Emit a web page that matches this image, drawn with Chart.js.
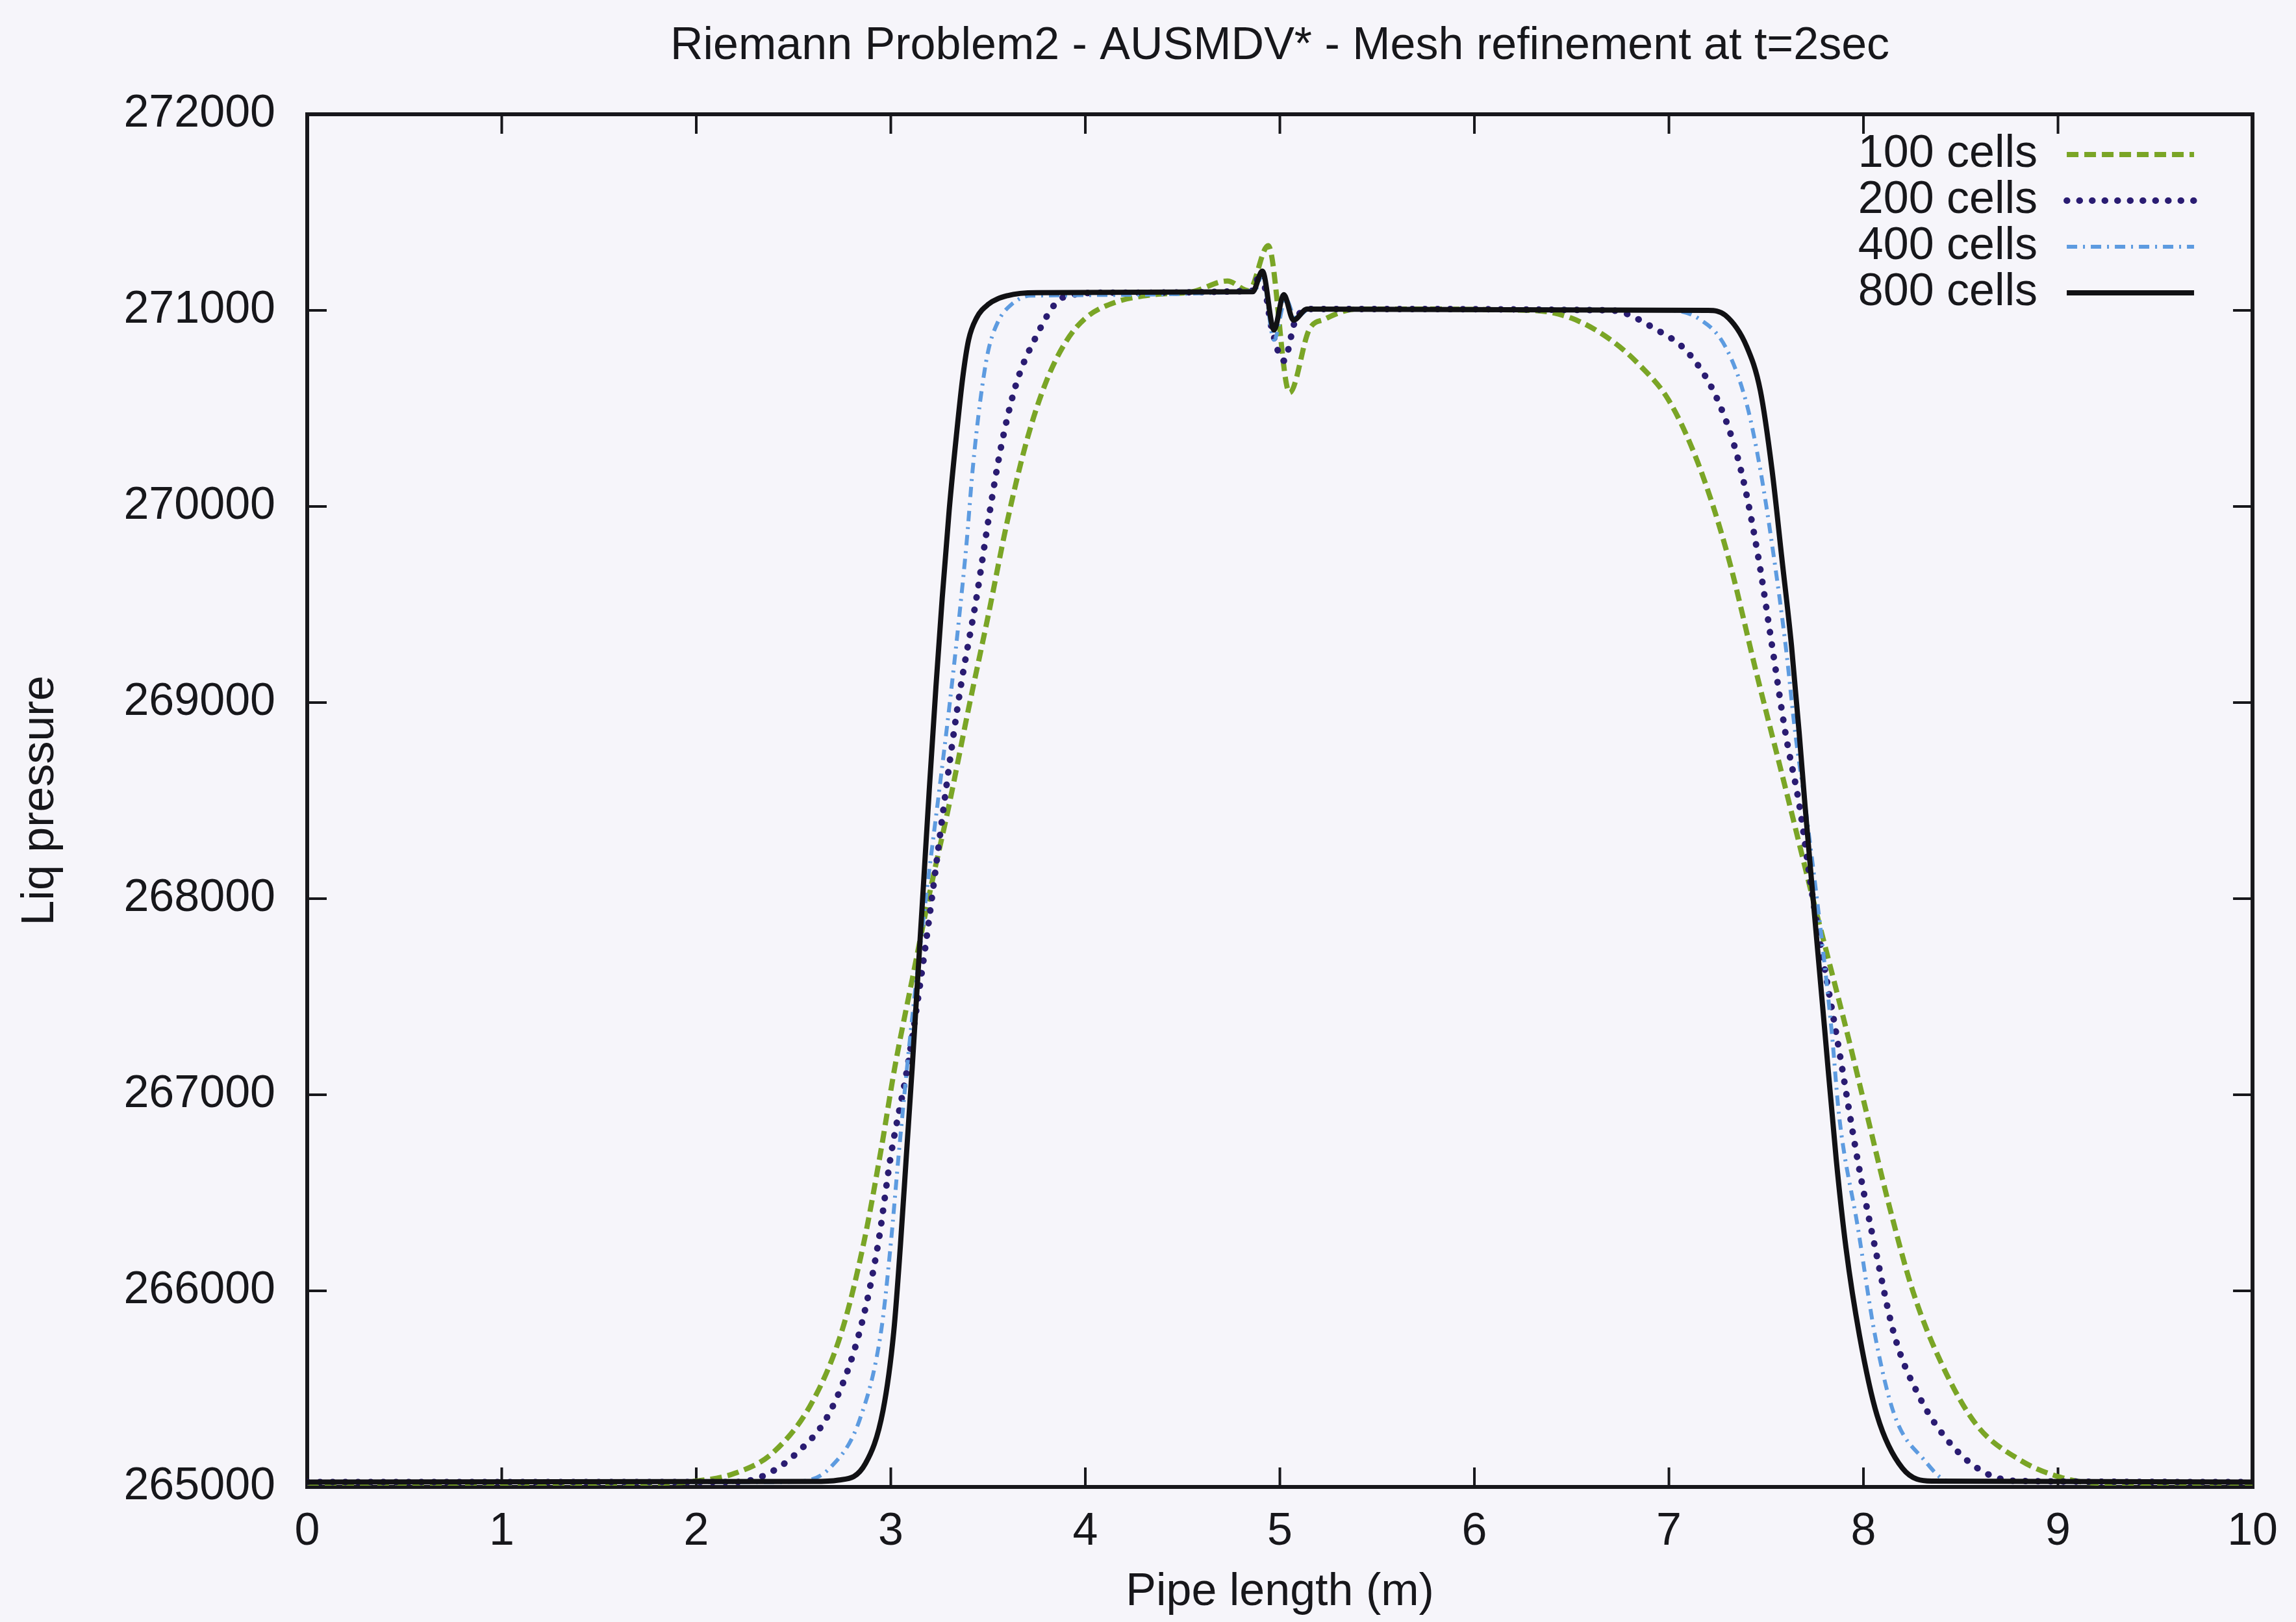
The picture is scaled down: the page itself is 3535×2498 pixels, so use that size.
<!DOCTYPE html>
<html>
<head>
<meta charset="utf-8">
<title>Riemann Problem2 - AUSMDV* - Mesh refinement at t=2sec</title>
<script src="https://cdn.jsdelivr.net/npm/chart.js@4.4.1/dist/chart.umd.min.js"></script>
<style>
  html, body { margin: 0; padding: 0; background: #f6f5fa; }
  #wrap { width: 3535px; height: 2498px; }
</style>
</head>
<body>
<div id="wrap"><canvas id="liqChart" width="3535" height="2498"></canvas></div>
<script>
// values (x in m, liquid pressure in Pa)
const seriesLabels = ['100 cells', '200 cells', '400 cells', '800 cells'];

const x100 = [0, 1.8, 2.0, 2.2, 2.4, 2.6, 2.75, 2.86, 2.95, 3.02, 3.11, 3.2, 3.3, 3.4, 3.5, 3.6, 3.7, 3.8, 3.9, 4.0, 4.15, 4.35, 4.55, 4.73, 4.84, 4.94, 5.05, 5.15, 5.23, 5.4, 6.3, 6.5, 6.7, 6.85, 7.0, 7.15, 7.3, 7.45, 7.6, 7.74, 7.91, 8.02, 8.13, 8.255, 8.4, 8.58, 8.8, 9.01, 9.2, 10];
const p100 = [265020, 265020, 265030, 265070, 265180, 265440, 265800, 266240, 266720, 267137, 267588, 268030, 268480, 268970, 269440, 269930, 270340, 270640, 270840, 270960, 271040, 271080, 271095, 271150, 271100, 271330, 270580, 270900, 270955, 271007, 271000, 270960, 270850, 270720, 270540, 270220, 269760, 269150, 268560, 268000, 267340, 266891, 266443, 265995, 265632, 265318, 265140, 265050, 265020, 265020];

const x200 = [0, 2.2, 2.33, 2.51, 2.69, 2.84, 2.935, 3.0, 3.085, 3.17, 3.31, 3.36, 3.44, 3.51, 3.565, 3.64, 3.73, 3.89, 4.1, 4.86, 4.9, 4.96, 5.02, 5.08, 5.15, 6.7, 6.93, 7.11, 7.26, 7.37, 7.46, 7.53, 7.6, 7.67, 7.74, 7.875, 7.97, 8.06, 8.16, 8.29, 8.44, 8.62, 8.8, 10];
const p200 = [265025, 265025, 265050, 265167, 265388, 265793, 266241, 266689, 267137, 267700, 268749, 269084, 269532, 269982, 270295, 270610, 270833, 271068, 271090, 271100, 271195, 270900, 270743, 270950, 271007, 271000, 270905, 270771, 270521, 270186, 269738, 269290, 268839, 268480, 268000, 267226, 266667, 266219, 265770, 265455, 265229, 265075, 265030, 265025];

const x400 = [0, 2.4, 2.55, 2.69, 2.84, 2.95, 3.0, 3.04, 3.1, 3.18, 3.25, 3.3, 3.35, 3.39, 3.42, 3.46, 3.5, 3.55, 3.62, 3.72, 4.87, 4.91, 4.97, 5.03, 5.08, 5.15, 7.0, 7.15, 7.29, 7.4, 7.47, 7.54, 7.6, 7.65, 7.7, 7.835, 7.875, 7.97, 8.06, 8.16, 8.31, 8.44, 10];
const p400 = [265025, 265025, 265030, 265100, 265343, 265793, 266241, 266689, 267300, 268000, 268560, 268971, 269421, 269820, 270180, 270540, 270790, 270940, 271030, 271075, 271100, 271180, 270850, 271060, 270960, 271007, 271000, 270960, 270815, 270521, 270186, 269738, 269290, 268839, 268480, 267340, 266891, 266330, 265770, 265365, 265140, 265030, 265025];

const x800 = [0, 2.6, 2.73, 2.87, 2.96, 3.015, 3.05, 3.08, 3.11, 3.138, 3.166, 3.198, 3.232, 3.264, 3.3, 3.337, 3.37, 3.4, 3.44, 3.5, 3.6, 3.75, 4.86, 4.91, 4.97, 5.02, 5.07, 5.14, 7.2, 7.29, 7.4, 7.47, 7.53, 7.58, 7.63, 7.67, 7.7, 7.75, 7.8, 7.86, 7.91, 7.98, 8.07, 8.2, 8.35, 10];
const p800 = [265025, 265028, 265035, 265120, 265390, 265790, 266240, 266690, 267140, 267590, 268040, 268560, 269080, 269530, 269980, 270360, 270660, 270850, 270960, 271030, 271075, 271090, 271095, 271200, 270900, 271080, 270950, 271007, 271000, 270975, 270815, 270590, 270186, 269740, 269290, 268840, 268470, 267900, 267340, 266670, 266220, 265770, 265365, 265096, 265030, 265025];

const xTickValues = [0, 1, 2, 3, 4, 5, 6, 7, 8, 9, 10];
const yTickValues = [265000, 266000, 267000, 268000, 269000, 270000, 271000, 272000];

const FONT = "'Liberation Sans', Arial, Helvetica, sans-serif";
const INK = '#17171b';

function pts(xs, ys) {
    return xs.map((x, i) => ({x: x, y: ys[i]}));
}

// gnuplot style box with inward ticks on all four sides
const framePlugin = {
    id: 'frame',
    beforeDatasetsDraw(chart) {
        const {ctx, chartArea: a, scales: {x, y}} = chart;
        const len = 30;
        ctx.save();
        ctx.strokeStyle = INK;
        ctx.lineWidth = 4;
        ctx.beginPath();
        x.ticks.forEach(t => {
            const px = x.getPixelForValue(t.value);
            ctx.moveTo(px, a.bottom); ctx.lineTo(px, a.bottom - len);
            ctx.moveTo(px, a.top); ctx.lineTo(px, a.top + len);
        });
        y.ticks.forEach(t => {
            const py = y.getPixelForValue(t.value);
            ctx.moveTo(a.left, py); ctx.lineTo(a.left + len, py);
            ctx.moveTo(a.right, py); ctx.lineTo(a.right - len, py);
        });
        ctx.stroke();
        ctx.lineWidth = 6;
        ctx.strokeRect(a.left, a.top, a.right - a.left, a.bottom - a.top);
        ctx.restore();
    }
};

// key in the top right corner: text first, line sample after it
const keyPlugin = {
    id: 'key',
    afterDraw(chart) {
        const {ctx, chartArea: a} = chart;
        const sampleEnd = a.right - 90;
        const sampleStart = sampleEnd - 196;
        const textRight = sampleStart - 45;
        ctx.save();
        ctx.font = '70px ' + FONT;
        ctx.textAlign = 'right';
        ctx.textBaseline = 'middle';
        chart.data.datasets.forEach((ds, i) => {
            const cy = a.top + 62 + i * 71;
            ctx.fillStyle = INK;
            ctx.fillText(ds.label, textRight, cy);
            ctx.strokeStyle = ds.borderColor;
            ctx.lineWidth = ds.borderWidth;
            ctx.lineCap = ds.borderCapStyle || 'butt';
            ctx.setLineDash(ds.borderDash || []);
            ctx.beginPath();
            ctx.moveTo(sampleStart, cy);
            ctx.lineTo(sampleEnd, cy);
            ctx.stroke();
        });
        ctx.restore();
    }
};

const lineBase = {
    pointRadius: 0,
    fill: false,
    cubicInterpolationMode: 'monotone'
};

const data = {
    datasets: [
        Object.assign({
            label: seriesLabels[0],
            data: pts(x100, p100),
            borderColor: '#7aa526',
            borderWidth: 8,
            borderDash: [18, 9],
            order: 4
        }, lineBase),
        Object.assign({
            label: seriesLabels[1],
            data: pts(x200, p200),
            borderColor: '#2a1c72',
            borderWidth: 10,
            borderDash: [0.5, 19],
            borderCapStyle: 'round',
            order: 3
        }, lineBase),
        Object.assign({
            label: seriesLabels[2],
            data: pts(x400, p400),
            borderColor: '#5d9be0',
            borderWidth: 6,
            borderDash: [16, 9, 3, 9],
            order: 2
        }, lineBase),
        Object.assign({
            label: seriesLabels[3],
            data: pts(x800, p800),
            borderColor: '#111114',
            borderWidth: 8,
            order: 1
        }, lineBase)
    ]
};

const config = {
    type: 'line',
    data: data,
    plugins: [framePlugin, keyPlugin],
    options: {
        responsive: false,
        devicePixelRatio: 1,
        animation: false,
        layout: {padding: {top: 0, left: 0, right: 59, bottom: 0}},
        plugins: {
            legend: {display: false},
            tooltip: {enabled: false},
            title: {
                display: true,
                fullSize: false,
                text: 'Riemann Problem2 - AUSMDV* - Mesh refinement at t=2sec',
                color: INK,
                font: {family: FONT, size: 70, weight: 'normal', lineHeight: 1.2},
                padding: {top: 30, bottom: 62}
            }
        },
        scales: {
            x: {
                type: 'linear',
                min: 0,
                max: 10,
                afterBuildTicks: s => { s.ticks = xTickValues.map(v => ({value: v})); },
                afterFit: s => { s.height = 208; },
                grid: {display: false, drawTicks: false},
                border: {display: false},
                ticks: {
                    color: INK,
                    padding: 28,
                    maxRotation: 0,
                    font: {family: FONT, size: 70, lineHeight: 1.2},
                    callback: v => String(v)
                },
                title: {
                    display: true,
                    text: 'Pipe length (m)',
                    color: INK,
                    font: {family: FONT, size: 70, lineHeight: 1.2},
                    padding: {top: 0, bottom: 3}
                }
            },
            y: {
                type: 'linear',
                min: 265000,
                max: 272000,
                afterBuildTicks: s => { s.ticks = yTickValues.map(v => ({value: v})); },
                afterFit: s => { s.width = 473; },
                grid: {display: false, drawTicks: false},
                border: {display: false},
                ticks: {
                    color: INK,
                    padding: 49,
                    font: {family: FONT, size: 70, lineHeight: 1.2},
                    callback: v => String(v)
                },
                title: {
                    display: true,
                    text: 'Liq pressure',
                    color: INK,
                    font: {family: FONT, size: 70, lineHeight: 1.2},
                    padding: {top: 21, bottom: 0}
                }
            }
        }
    }
};

const ctx = document.getElementById('liqChart').getContext('2d');
const liqChart = new Chart(ctx, config);
</script>
</body>
</html>
